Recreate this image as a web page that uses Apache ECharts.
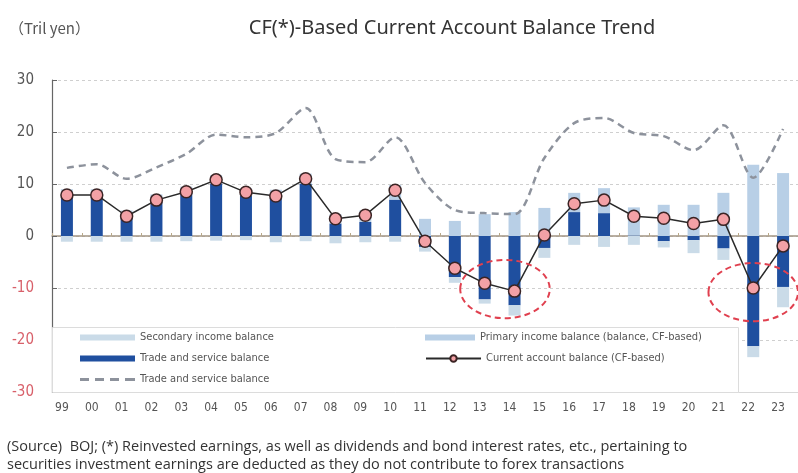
<!DOCTYPE html>
<html>
<head>
<meta charset="utf-8">
<script src="https://cdn.jsdelivr.net/npm/echarts@6/dist/echarts.min.js"></script>
<style>
  html, body { margin: 0; padding: 0; background: #fff; }
  #chart { width: 798px; height: 473px; }
</style>
</head>
<body>
<div id="chart"></div>
<script>
// Fiscal years shown on the horizontal axis
const years = ['99','00','01','02','03','04','05','06','07','08','09','10','11','12','13','14','15','16','17','18','19','20','21','22','23'];

// Trade and service balance (trillion yen)
const tradeService = [7.6, 7.4, 3.4, 6.5, 8.3, 10.1, 7.7, 7.3, 10.0, 2.4, 2.7, 7.0, -2.1, -7.9, -12.2, -13.3, -2.3, 4.6, 4.4, 0.1, -1.0, -0.8, -2.4, -21.2, -9.8];

// Primary income balance, CF-based (trillion yen)
const primaryIncomeCF = [1.4, 1.6, 1.5, 1.5, 1.2, 1.6, 1.5, 1.6, 2.0, 1.8, 2.2, 2.8, 3.3, 2.9, 4.2, 4.6, 5.4, 3.7, 4.8, 5.4, 6.0, 6.0, 8.3, 13.7, 12.1];

// Secondary income balance (trillion yen)
const secondaryIncome = [-1.1, -1.1, -1.1, -1.1, -1.0, -0.9, -0.8, -1.2, -1.0, -1.4, -1.2, -1.1, -0.9, -1.1, -0.8, -2.0, -1.9, -1.7, -2.1, -1.7, -1.2, -2.5, -2.2, -2.1, -3.9];

// Current account balance, CF-based (trillion yen)
const currentAccountCF = [7.9, 7.9, 3.8, 6.9, 8.5, 10.8, 8.4, 7.7, 11.0, 3.3, 4.0, 8.8, -1.0, -6.2, -9.1, -10.6, 0.2, 6.2, 6.9, 3.8, 3.4, 2.4, 3.2, -10.0, -1.9];

// Dashed reference line (trillion yen)
const dashedBalance = [13.1, 13.8, 11.0, 13.2, 15.8, 19.5, 19.0, 19.8, 24.6, 14.8, 14.2, 19.0, 10.2, 5.0, 4.4, 4.2, 15.0, 21.7, 22.7, 19.8, 19.2, 16.5, 21.3, 11.2, 20.6];

// Value-axis ticks
const yMin = -30, yMax = 30, yStep = 10;

// Highlighted periods: ellipse centred between two years at a given value
const highlights = [
  { from: '13', to: '14', weight: 0.68, value: -10.2 },
  { from: '22', to: '22', weight: 0, value: -10.8 }
];

const NARROW_FONT = '"Liberation Sans Narrow", "DejaVu Sans Condensed", "Liberation Sans", sans-serif';
const NOTE_FONT = '"Open Sans", "Liberation Sans", sans-serif';
const MAIN_FONT = '"Noto Sans", "Noto Sans CJK JP", sans-serif';

const NAME_SEC = 'Secondary income balance';
const NAME_TRADE = 'Trade and service balance';
const NAME_TRADE_LINE = 'Trade and service balance ';
const NAME_PRIM = 'Primary income balance (balance, CF-based)';
const NAME_CA = 'Current account balance (CF-based)';

const chart = echarts.init(document.getElementById('chart'), null, { renderer: 'canvas' });

function legendItem(data, left, top, w, h) {
  return {
    data: [data],
    left: left,
    top: top,
    padding: 0,
    itemWidth: w,
    itemHeight: h,
    selectedMode: false,
    formatter: n => n.trim(),
    textStyle: { fontSize: 11, color: '#555', fontFamily: NARROW_FONT }
  };
}

const option = {
  animation: false,
  backgroundColor: '#fff',
  title: [
    {
      text: 'CF(*)-Based Current Account Balance Trend',
      left: 447, top: 13, textAlign: 'center',
      textStyle: { fontSize: 20, fontWeight: 'normal', color: '#333', fontFamily: MAIN_FONT }
    },
    {
      text: '（Tril yen）',
      left: 4, top: 16,
      textStyle: { fontSize: 15, fontWeight: 'normal', color: '#555', fontFamily: '"Noto Sans CJK JP", "Noto Sans", sans-serif' }
    },
    {
      text: '(Source)  BOJ; (*) Reinvested earnings, as well as dividends and bond interest rates, etc., pertaining to\nsecurities investment earnings are deducted as they do not contribute to forex transactions',
      left: 2, top: 433,
      textStyle: { fontSize: 14.5, fontWeight: 'normal', color: '#333', fontFamily: NOTE_FONT, lineHeight: 18 }
    }
  ],
  legend: [
    legendItem({ name: NAME_SEC, icon: 'rect' }, 80, 332, 55, 6),
    legendItem({ name: NAME_TRADE, icon: 'rect' }, 80, 353, 55, 6),
    legendItem({ name: NAME_TRADE_LINE, icon: 'path://M0,0h9v3h-9zM15,0h9v3h-9zM30,0h9v3h-9zM45,0h10v3h-10z' }, 80, 374, 55, 3),
    legendItem({ name: NAME_PRIM, icon: 'rect' }, 425, 332, 50, 6),
    legendItem({ name: NAME_CA }, 425, 353, 55, 8)
  ],
  grid: { left: 52, right: -4, top: 80, bottom: 81, containLabel: false },
  xAxis: [
    {
      type: 'category',
      data: years,
      position: 'top',
      axisLine: { onZero: true, lineStyle: { color: '#a39584', width: 1.5 } },
      axisTick: { show: true, inside: false, length: 3, lineStyle: { color: '#b8a888' } },
      axisLabel: { show: false },
      splitLine: { show: false }
    },
    {
      type: 'category',
      data: years,
      position: 'bottom',
      axisLine: { onZero: false, lineStyle: { color: '#d8d8d8' } },
      axisTick: { show: false },
      axisLabel: { margin: 10, fontSize: 12, color: '#555', fontFamily: NARROW_FONT, padding: [0, 10, 0, 0] },
      splitLine: { show: false }
    }
  ],
  yAxis: {
    type: 'value',
    min: yMin, max: yMax, interval: yStep,
    axisLine: { show: true, lineStyle: { color: '#666', width: 1.2 } },
    axisTick: { show: true, inside: true, length: 5, lineStyle: { color: '#666' } },
    axisLabel: {
      margin: 18, fontSize: 15, fontFamily: NARROW_FONT,
      color: v => (v < 0 ? '#d8606a' : '#555')
    },
    splitLine: { lineStyle: { type: [3, 3], color: '#cfcfcf' } }
  },
  graphic: [
    {
      id: 'legendBox', type: 'rect', left: 52, top: 327, z: 1,
      shape: { width: 686, height: 65 },
      style: { fill: '#fff', stroke: '#dcdcdc', lineWidth: 1 }
    }
  ],
  series: [
    {
      name: NAME_TRADE, type: 'bar', stack: 'cf', xAxisIndex: 1,
      barWidth: 12, data: tradeService,
      itemStyle: { color: '#1f4f9f' }
    },
    {
      name: NAME_PRIM, type: 'bar', stack: 'cf', xAxisIndex: 1,
      barWidth: 12, data: primaryIncomeCF,
      itemStyle: { color: '#b8cfe6' }
    },
    {
      name: NAME_SEC, type: 'bar', stack: 'cf', xAxisIndex: 1,
      barWidth: 12, data: secondaryIncome,
      itemStyle: { color: '#cadbe8' }
    },
    {
      name: NAME_TRADE_LINE, type: 'line', xAxisIndex: 1,
      data: dashedBalance, smooth: 0.3, symbol: 'none',
      lineStyle: { color: '#8d929c', width: 2.5, type: [7, 5] },
      itemStyle: { color: '#8d929c' }
    },
    {
      name: NAME_CA, type: 'line', xAxisIndex: 1,
      data: currentAccountCF, symbol: 'circle', symbolSize: 12,
      lineStyle: { color: '#2a2a2a', width: 1.5 },
      itemStyle: { color: '#f3a1a6', borderColor: '#3b2424', borderWidth: 1.5 }
    }
  ]
};

chart.setOption(option);

// Dashed ellipses marking the deficit periods, placed from data coordinates
function placeHighlights() {
  const finder = { xAxisIndex: 1, yAxisIndex: 0 };
  const band = chart.convertToPixel(finder, [years[1], 0])[0] - chart.convertToPixel(finder, [years[0], 0])[0];
  const els = highlights.map((h, i) => {
    const a = chart.convertToPixel(finder, [h.from, h.value]);
    const b = chart.convertToPixel(finder, [h.to, h.value]);
    const cx = a[0] + (b[0] - a[0]) * h.weight;
    const cy = a[1];
    const ry = Math.abs(chart.convertToPixel(finder, [h.from, h.value + 5.6])[1] - cy);
    return {
      id: 'hl' + i, type: 'ellipse', z: 10,
      shape: { cx: cx, cy: cy, rx: band * 1.5, ry: ry },
      style: { fill: 'none', stroke: '#e0404f', lineWidth: 2, lineDash: [6, 4] }
    };
  });
  chart.setOption({ graphic: els });
}
placeHighlights();
</script>
</body>
</html>
